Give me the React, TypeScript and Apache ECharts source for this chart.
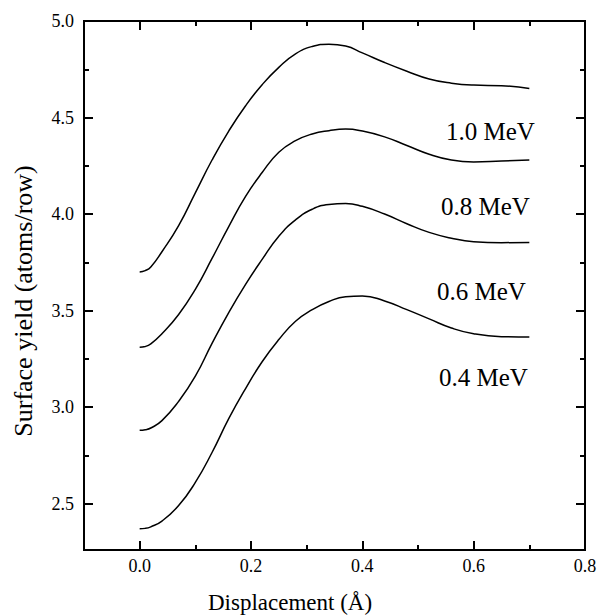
import React, { useEffect, useRef } from "react";
import * as echarts from "echarts";

const xValues = [0, 0.01, 0.02, 0.04, 0.07, 0.10, 0.13, 0.16, 0.19, 0.22, 0.25, 0.28, 0.31, 0.34, 0.37, 0.40, 0.44, 0.48, 0.52, 0.56, 0.60, 0.65, 0.70];

const y10 = [3.70, 3.707, 3.726, 3.805, 3.94, 4.11, 4.28, 4.43, 4.56, 4.67, 4.76, 4.83, 4.868, 4.88, 4.87, 4.835, 4.785, 4.74, 4.70, 4.678, 4.668, 4.665, 4.65];
const y08 = [3.31, 3.314, 3.328, 3.38, 3.48, 3.61, 3.77, 3.935, 4.09, 4.215, 4.32, 4.38, 4.415, 4.432, 4.44, 4.43, 4.40, 4.355, 4.31, 4.28, 4.27, 4.275, 4.28];
const y06 = [2.88, 2.883, 2.892, 2.93, 3.03, 3.16, 3.33, 3.49, 3.635, 3.765, 3.885, 3.97, 4.025, 4.05, 4.055, 4.04, 4.00, 3.95, 3.905, 3.875, 3.857, 3.852, 3.853];
const y04 = [2.37, 2.372, 2.38, 2.41, 2.49, 2.61, 2.765, 2.94, 3.095, 3.235, 3.35, 3.445, 3.505, 3.547, 3.572, 3.576, 3.55, 3.505, 3.457, 3.41, 3.38, 3.365, 3.363];

const seriesNames = ["1.0 MeV", "0.8 MeV", "0.6 MeV", "0.4 MeV"];
const seriesValues = [y10, y08, y06, y04];

const xMajorTicks = [0, 0.2, 0.4, 0.6, 0.8];
const xMinorTicks = [0.1, 0.3, 0.5, 0.7];
const yMajorTicks = [2.5, 3.0, 3.5, 4.0, 4.5, 5.0];
const yMinorTicks = [2.75, 3.25, 3.75, 4.25, 4.75];

const xTitle = "Displacement (Å)";
const yTitle = "Surface yield (atoms/row)";

const FONT = "'Liberation Serif', 'DejaVu Serif', serif";
const X_MIN = -0.1;
const X_MAX = 0.8;
const Y_MIN = 2.26;
const Y_MAX = 5.0;

export default function App() {
  const ref = useRef<HTMLDivElement>(null);

  useEffect(() => {
    if (!ref.current) return;
    const chart = echarts.init(ref.current, undefined, { renderer: "svg" });

    const axisLine = { show: true, onZero: false, lineStyle: { color: "#000", width: 2 } };

    const mkX = (position: string, ticks: number[], len: number, labels: boolean) => ({
      type: "value",
      position,
      min: X_MIN,
      max: X_MAX,
      axisLine,
      splitLine: { show: false },
      axisTick: { show: true, inside: true, length: len, customValues: ticks, lineStyle: { color: "#000", width: 2 } },
      axisLabel: labels
        ? {
            show: true,
            customValues: ticks,
            formatter: (v: number) => v.toFixed(1),
            fontFamily: FONT,
            fontSize: 18,
            color: "#000",
            margin: 7,
          }
        : { show: false },
    });

    const mkY = (position: string, ticks: number[], len: number, labels: boolean) => ({
      type: "value",
      position,
      min: Y_MIN,
      max: Y_MAX,
      axisLine,
      splitLine: { show: false },
      axisTick: { show: true, inside: true, length: len, customValues: ticks, lineStyle: { color: "#000", width: 2 } },
      axisLabel: labels
        ? {
            show: true,
            customValues: ticks,
            formatter: (v: number) => v.toFixed(1),
            fontFamily: FONT,
            fontSize: 18,
            color: "#000",
            margin: 10,
          }
        : { show: false },
    });

    const labelPos = [
      { x: 446, y: 131 },
      { x: 441, y: 206 },
      { x: 437, y: 291 },
      { x: 439, y: 377 },
    ];

    chart.setOption({
      animation: false,
      backgroundColor: "#fff",
      grid: { left: 84, top: 21, right: 17, bottom: 65, containLabel: false },
      xAxis: [
        mkX("bottom", xMajorTicks, 9, true),
        mkX("bottom", xMinorTicks, 5, false),
        mkX("top", xMajorTicks, 9, false),
        mkX("top", xMinorTicks, 5, false),
      ],
      yAxis: [
        mkY("left", yMajorTicks, 9, true),
        mkY("left", yMinorTicks, 5, false),
        mkY("right", yMajorTicks, 9, false),
        mkY("right", yMinorTicks, 5, false),
      ],
      series: seriesValues.map((vals, i) => ({
        name: seriesNames[i],
        type: "line",
        xAxisIndex: 0,
        yAxisIndex: 0,
        data: xValues.map((x, j) => [x, vals[j]]),
        smooth: 0.5,
        symbol: "none",
        lineStyle: { color: "#000", width: 1.5 },
      })),
      graphic: [
        ...seriesNames.map((n, i) => ({
          type: "text",
          x: labelPos[i].x,
          y: labelPos[i].y,
          style: {
            text: n,
            fontFamily: FONT,
            fontSize: 25,
            fill: "#000",
            align: "left",
            verticalAlign: "middle",
          },
        })),
        {
          type: "text",
          x: 290,
          y: 602,
          style: {
            text: xTitle,
            fontFamily: FONT,
            fontSize: 23,
            fill: "#000",
            align: "center",
            verticalAlign: "middle",
          },
        },
        {
          type: "text",
          x: 23,
          y: 301,
          rotation: Math.PI / 2,
          style: {
            text: yTitle,
            fontFamily: FONT,
            fontSize: 26,
            fill: "#000",
            align: "center",
            verticalAlign: "middle",
          },
        },
      ],
    });

    return () => chart.dispose();
  }, []);

  return (
    <div
      ref={ref}
      style={{ position: "fixed", left: 0, top: 0, width: 602, height: 615, background: "#fff" }}
    />
  );
}
